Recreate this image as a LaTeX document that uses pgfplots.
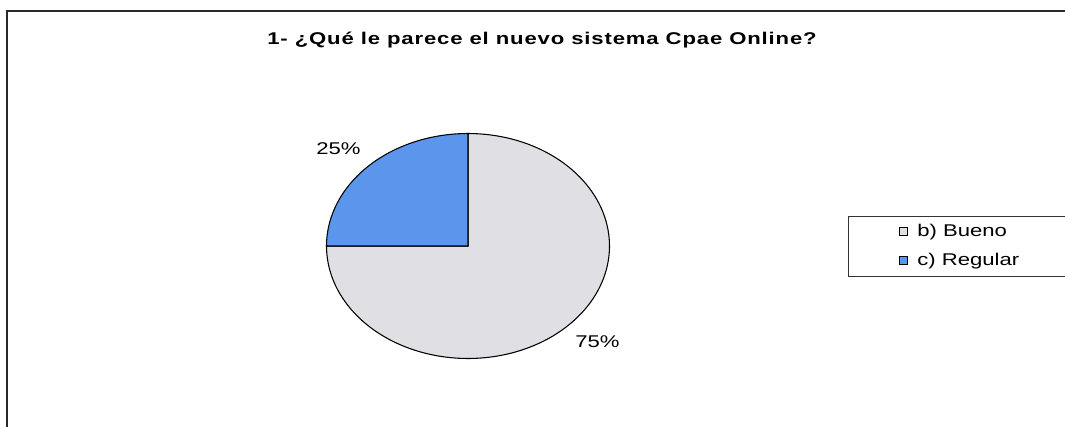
\documentclass[border=0pt]{standalone}
\usepackage{pgfplots}
\pgfplotsset{compat=1.18}
\usepackage{fontspec}
\setmainfont{Liberation Sans}[FakeStretch=1.3]
\newfontfamily\titlefont{Liberation Sans}[FakeStretch=1.3, LetterSpace=5]
\definecolor{bueno}{RGB}{224,224,228}
\definecolor{regular}{RGB}{92,150,236}
\definecolor{frame}{RGB}{40,40,40}

\begin{document}
\begin{tikzpicture}
  % one axis unit = one pixel of the 1065x426 reference
  \begin{axis}[
    x=0.75pt, y=0.75pt,
    xmin=0, xmax=1065, ymin=0, ymax=426,
    hide axis, clip=false,
    area legend,
    legend image code/.code={\draw[#1, draw=black, line width=0.5pt] (0pt,-3pt) rectangle (6pt,3pt);},
    legend style={at={(axis cs:899,204.7)}, anchor=north west,
      draw=none, fill=none,
      inner xsep=0pt, inner ysep=0pt, row sep=6.75pt,
      /tikz/every odd column/.append style={column sep=5pt},
      font=\fontsize{12.75}{14}\selectfont},
    legend cell align=left,
    ]
    \coordinate (BL) at (axis cs:0,0);
    \coordinate (TR) at (axis cs:1065,426);

    % pie: b) Bueno 75 %, c) Regular 25 % (start at 12 o'clock, 3.6 deg per %)
    \addplot[fill=bueno, draw=black, line width=0.8pt, domain=180:450, samples=120]
      ({468+141.5*cos(x)}, {180+112.5*sin(x)}) -- (axis cs:468,180) -- cycle;
    \addplot[fill=regular, draw=black, line width=0.8pt, domain=90:180, samples=60]
      ({468+141.5*cos(x)}, {180+112.5*sin(x)}) -- (axis cs:468,180) -- cycle;
    \legend{b) Bueno, c) Regular}

    % legend frame, running off the right edge
    \draw[black!80, line width=0.6pt] (axis cs:1080,210) -- (axis cs:848,210)
      -- (axis cs:848,150) -- (axis cs:1080,150);

    \node at (axis cs:338.5,277) {\fontsize{12.75}{14}\selectfont 25\%};
    \node at (axis cs:597.5,84) {\fontsize{12.75}{14}\selectfont 75\%};

    \node at (axis cs:542,386) {\titlefont\bfseries\fontsize{12.75}{15}\selectfont 1- ¿Qué le parece el nuevo sistema Cpae Online?};

    % outer frame (cut at right and bottom)
    \draw[frame, line width=1.1pt] (axis cs:7,-5) -- (axis cs:7,415) -- (axis cs:1075,415);
  \end{axis}
  \pgfresetboundingbox
  \path (BL) rectangle (TR);
\end{tikzpicture}
\end{document}
